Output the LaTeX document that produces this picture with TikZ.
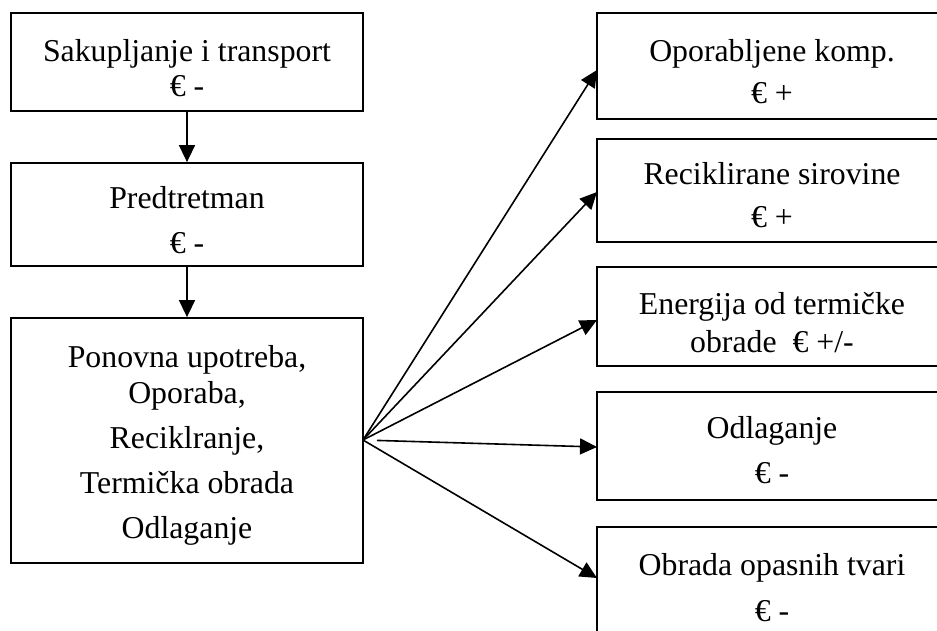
\documentclass[tikz,border=0pt]{standalone}
\usepackage{fontspec}
\setmainfont{Liberation Serif}
\usetikzlibrary{arrows.meta}
\begin{document}
\begin{tikzpicture}[x=1pt,y=-1pt,
  box/.style={draw,line width=1.8pt,rectangle,inner sep=0pt,minimum width=352pt},
  rbox/.style={draw,line width=1.8pt,rectangle,inner sep=0pt,minimum width=350pt},
  txt/.style={anchor=base,inner sep=0pt,font=\fontsize{31.8}{36}\selectfont},
  arr/.style={line width=1.6pt,-{Triangle[length=17pt,width=16pt]}}]
\clip (0,0) rectangle (937,631);
\useasboundingbox (0,0) rectangle (937,631);
% left boxes
\node[box,minimum height=98pt] (b1) at (187,62) {};
\node[box,minimum height=103pt] (b2) at (187,214.5) {};
\node[box,minimum height=245pt] (b3) at (187,440.5) {};
\node[txt] (t1a) at (187,62) {Sakupljanje i transport};
\node[txt] (t1b) at (187,97) {€ -};
\node[txt] (t2a) at (187,209) {Predtretman};
\node[txt] (t2b) at (187,253) {€ -};
\node[txt] (t3a) at (187,367) {Ponovna upotreba,};
\node[txt] (t3b) at (187,403) {Oporaba,};
\node[txt] (t3c) at (187,448) {Reciklranje,};
\node[txt] (t3d) at (187,493) {Termička obrada};
\node[txt] (t3e) at (187,538) {Odlaganje};
% right boxes
\node[rbox,minimum height=106pt] (rA) at (772,66) {};
\node[rbox,minimum height=103pt] (rB) at (772,190.5) {};
\node[rbox,minimum height=99pt] (rC) at (772,316.5) {};
\node[rbox,minimum height=108pt] (rD) at (772,446) {};
\node[rbox,minimum height=113pt] (rE) at (772,583.5) {};
\node[txt] (tAa) at (772,62) {Oporabljene komp.};
\node[txt] (tAb) at (772,104) {€ +};
\node[txt] (tBa) at (772,185) {Reciklirane sirovine};
\node[txt] (tBb) at (772,228) {€ +};
\node[txt] (tCa) at (772,314) {Energija od termičke};
\node[txt] (tCb) at (772,352) {obrade~~€ +/-};
\node[txt] (tDa) at (772,438) {Odlaganje};
\node[txt] (tDb) at (772,483) {€ -};
\node[txt] (tEa) at (772,575) {Obrada opasnih tvari};
\node[txt] (tEb) at (772,621) {€ -};
% connectors
\coordinate (fan) at (363,440);
\coordinate (pA) at (597,70);
\coordinate (pB) at (597,192);
\coordinate (pC) at (597,320);
\coordinate (pD) at (597,447);
\coordinate (pE) at (597,578);
\draw[arr] (b1.south) -- (b2.north);
\draw[arr] (b2.south) -- (b3.north);
\draw[arr] (fan) -- (pA);
\draw[arr] (fan) -- (pB);
\draw[arr] (fan) -- (pC);
\draw[arr,shorten <=14pt] (fan) -- (pD);
\draw[arr] (fan) -- (pE);
\end{tikzpicture}
\end{document}
